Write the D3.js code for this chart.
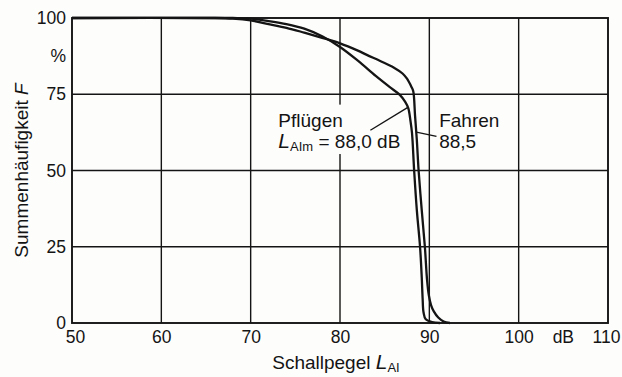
<!DOCTYPE html>
<html>
<head>
<meta charset="utf-8">
<script src="https://cdn.jsdelivr.net/npm/d3@7/dist/d3.min.js"></script>
<style>
  html, body { margin: 0; padding: 0; background: #fdfdfc; }
  svg { display: block; }
  text { font-family: "Liberation Sans", Arial, sans-serif; fill: #141414; }
</style>
</head>
<body>
<svg id="chart" width="622" height="377"></svg>
<script>
// Tick values
const xTicks = [50, 60, 70, 80, 90, 100, 110];
const yTicks = [0, 25, 50, 75, 100];

// Cumulative frequency F (%) over sound level L_AI (dB) — ploughing
const pfluegenDb = [50, 68, 70, 72, 74, 76, 78, 80, 82, 84, 85.5, 86.7, 87.3, 87.65, 87.9, 88.06, 88.3, 88.6, 88.96, 89.15, 89.25, 89.35, 89.6, 90.3, 91.2];
const pfluegenF  = [100, 100, 99.8, 99, 98, 96.5, 94, 90.5, 86, 81, 77.5, 74.8, 72.5, 70.4, 66, 62.3, 50, 37, 25, 15, 8, 3.5, 1.2, 0.3, 0];

// Cumulative frequency F (%) over sound level L_AI (dB) — driving
const fahrenDb = [50, 66, 68, 70, 72, 74, 76, 78, 80, 82, 83, 84.5, 86, 87, 87.5, 88, 88.2, 88.4, 88.6, 88.8, 89.15, 89.5, 89.75, 89.95, 90.2, 90.5, 91, 91.6, 92.3];
const fahrenF  = [100, 100, 99.8, 99.2, 98, 96.8, 95.2, 93.5, 91.7, 89.3, 87.9, 85.9, 83.8, 81.8, 80.1, 77.4, 76, 68, 60, 50, 37, 25, 14, 9, 5.8, 3.8, 1.8, 0.5, 0];

const svg = d3.select("#chart");
const plotLeft = 72, plotRight = 608, plotTop = 18, plotBottom = 323;

const x = d3.scaleLinear().domain([50, 110]).range([plotLeft, plotRight]);
const y = d3.scaleLinear().domain([0, 100]).range([plotBottom, plotTop]);

const ink = "#141414";
const tickSize = 17.5, labelSize = 19;

// Grid lines
const grid = svg.append("g");
grid.selectAll("line.v").data(xTicks.slice(1, -1)).join("line")
  .attr("x1", d => x(d)).attr("x2", d => x(d))
  .attr("y1", y(0)).attr("y2", y(100))
  .attr("stroke", ink).attr("stroke-width", 1.4);
grid.selectAll("line.h").data(yTicks.slice(1, -1)).join("line")
  .attr("x1", x(50)).attr("x2", x(110))
  .attr("y1", d => y(d)).attr("y2", d => y(d))
  .attr("stroke", ink).attr("stroke-width", 1.4);

// Frame
svg.append("rect")
  .attr("x", x(50)).attr("y", y(100))
  .attr("width", x(110) - x(50)).attr("height", y(0) - y(100))
  .attr("fill", "none").attr("stroke", ink).attr("stroke-width", 1.9);

// Axes (labels only)
const xAxis = d3.axisBottom(x).tickValues(xTicks).tickSize(0).tickPadding(8).tickFormat(d3.format("d"));
const gx = svg.append("g").attr("transform", `translate(0,${plotBottom})`).call(xAxis);
gx.select(".domain").remove();
gx.selectAll("text").attr("font-size", tickSize).attr("font-family", null).style("fill", ink)
  .attr("dx", d => d === 50 ? 3 : (d === 110 ? -2 : 0));

const yAxis = d3.axisLeft(y).tickValues(yTicks).tickSize(0).tickPadding(6).tickFormat(d3.format("d"));
const gy = svg.append("g").attr("transform", `translate(${plotLeft},0)`).call(yAxis);
gy.select(".domain").remove();
gy.selectAll("text").attr("font-size", tickSize).attr("font-family", null).style("fill", ink);

// Units
svg.append("text").attr("x", x(105)).attr("y", y(0) + 8).attr("dy", "0.71em")
  .attr("text-anchor", "middle").attr("font-size", tickSize).text("dB");
svg.append("text").attr("x", plotLeft - 6).attr("y", y(87.5)).attr("dy", "0.32em")
  .attr("text-anchor", "end").attr("font-size", tickSize).text("%");

// Axis titles
const xt = svg.append("text").attr("x", (x(50) + x(110)) / 2 - 4).attr("y", 369)
  .attr("text-anchor", "middle").attr("font-size", labelSize);
xt.append("tspan").text("Schallpegel ");
xt.append("tspan").attr("font-style", "italic").attr("font-size", 21).text("L");
xt.append("tspan").attr("font-size", 13).attr("dy", 3).text("AI");

const yt = svg.append("text")
  .attr("transform", `translate(28,${(y(0) + y(100)) / 2}) rotate(-90)`)
  .attr("text-anchor", "middle").attr("font-size", labelSize);
yt.append("tspan").text("Summenhäufigkeit ");
yt.append("tspan").attr("font-style", "italic").text("F");

// Label backdrop interrupting the grid
svg.append("rect")
  .attr("x", x(72.9)).attr("y", y(71.6))
  .attr("width", x(86.8) - x(72.9)).attr("height", y(55.4) - y(71.6))
  .attr("fill", "#fdfdfc");

// Curves
const line = d3.line().curve(d3.curveCatmullRom.alpha(0.5)).x(d => x(d[0])).y(d => y(d[1]));
const series = [
  pfluegenDb.map((d, i) => [d, pfluegenF[i]]),
  fahrenDb.map((d, i) => [d, fahrenF[i]])
];
svg.append("g").selectAll("path").data(series).join("path")
  .attr("d", line).attr("fill", "none").attr("stroke", ink)
  .attr("stroke-width", 2.3).attr("stroke-linejoin", "round");

// Leader lines
const leaders = [
  [[83.4, 63.2], [87.55, 70.6]],
  [[90.8, 61.2], [88.55, 62.6]]
];
svg.append("g").selectAll("line").data(leaders).join("line")
  .attr("x1", d => x(d[0][0])).attr("y1", d => y(d[0][1]))
  .attr("x2", d => x(d[1][0])).attr("y2", d => y(d[1][1]))
  .attr("stroke", ink).attr("stroke-width", 1.4);

// Annotations
svg.append("text").attr("x", x(73.1)).attr("y", 127).attr("font-size", labelSize).text("Pflügen");
const la = svg.append("text").attr("x", x(73.1)).attr("y", 148).attr("font-size", labelSize);
la.append("tspan").attr("font-style", "italic").attr("font-size", 21).text("L");
la.append("tspan").attr("font-size", 13).attr("dy", 3).text("AIm");
la.append("tspan").attr("dy", -3).text(" = 88,0 dB");

svg.append("text").attr("x", x(91.1)).attr("y", 127).attr("font-size", labelSize).text("Fahren");
svg.append("text").attr("x", x(91.1)).attr("y", 148).attr("font-size", labelSize).text("88,5");
</script>
</body>
</html>
